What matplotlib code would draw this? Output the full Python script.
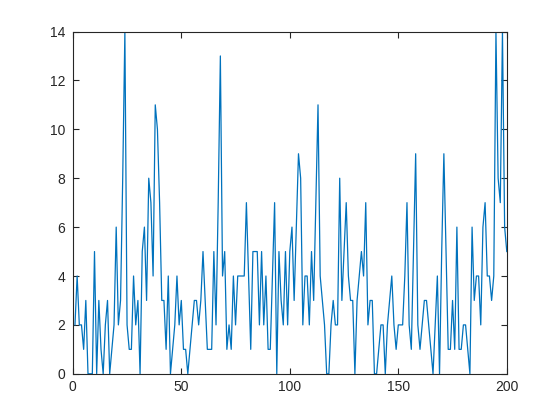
import numpy as np
import matplotlib
matplotlib.use('Agg')
import matplotlib.pyplot as plt

# counts, one per sample (x = 1..200)
counts = [2, 4, 2, 2, 1, 3, 0, 0, 0, 5,
          0, 3, 1, 0, 2, 3, 0, 1, 2, 6,
          2, 3, 8, 14, 2, 1, 1, 4, 2, 3,
          0, 5, 6, 3, 8, 7, 4, 11, 10, 7,
          3, 3, 1, 4, 0, 1, 2, 4, 2, 3,
          1, 1, 0, 1, 2, 3, 3, 2, 3, 5,
          3, 1, 1, 1, 5, 2, 7, 13, 4, 5,
          1, 2, 1, 4, 2, 4, 4, 4, 4, 7,
          4, 1, 5, 5, 5, 2, 5, 2, 4, 1,
          1, 4, 7, 0, 5, 3, 2, 5, 2, 5,
          6, 3, 6, 9, 8, 2, 4, 4, 2, 5,
          3, 7, 11, 4, 3, 2, 0, 0, 2, 3,
          2, 2, 8, 3, 5, 7, 4, 3, 3, 0,
          3, 4, 5, 4, 7, 2, 3, 3, 0, 0,
          1, 2, 2, 0, 2, 3, 4, 2, 1, 2,
          2, 2, 4, 7, 2, 1, 5, 9, 2, 1,
          2, 3, 3, 2, 1, 0, 2, 4, 0, 5,
          9, 5, 1, 1, 3, 1, 6, 1, 1, 2,
          2, 1, 0, 6, 3, 4, 4, 2, 6, 7,
          4, 4, 3, 4, 14, 8, 7, 14, 6, 5]
samples = np.arange(1, len(counts) + 1)

xticks = [0, 50, 100, 150, 200]
yticks = [0, 2, 4, 6, 8, 10, 12, 14]

plt.rcParams['font.family'] = ['Liberation Sans', 'DejaVu Sans']
axis_col = (0.15, 0.15, 0.15)

fig = plt.figure(figsize=(5.6, 4.2), dpi=100)
ax = fig.add_axes([0.13, 0.11, 0.775, 0.815])

ax.plot(samples, counts, color='#0072BD', linewidth=0.9)

ax.set_xlim(0, 200)
ax.set_ylim(0, 14)
ax.set_xticks(xticks)
ax.set_yticks(yticks)

for s in ax.spines.values():
    s.set_color(axis_col)
    s.set_linewidth(0.8)
ax.tick_params(direction='in', length=4, width=0.8, colors=axis_col,
               labelsize=10, top=True, right=True)
ax.tick_params(axis='x', pad=4.5)
ax.tick_params(axis='y', pad=5.5)

plt.savefig('out.png', dpi=100)
